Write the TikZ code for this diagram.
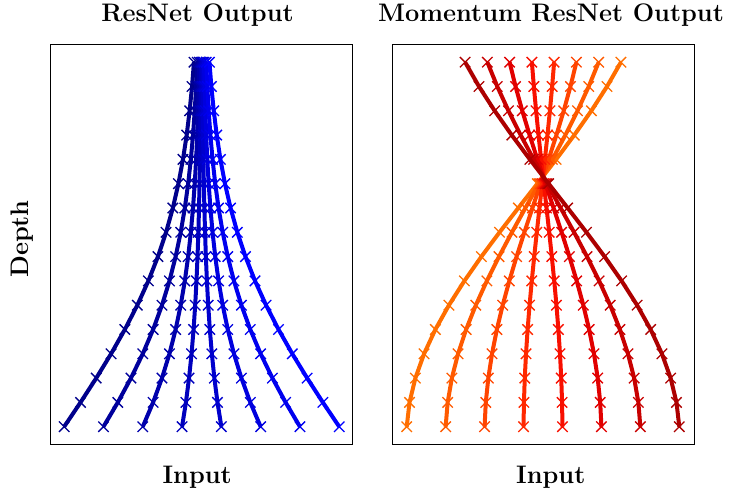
\documentclass[tikz,border=0pt]{standalone}
\usetikzlibrary{shapes.misc}
\definecolor{L0}{RGB}{0,0,139}
\definecolor{L1}{RGB}{0,0,156}
\definecolor{L2}{RGB}{0,0,172}
\definecolor{L3}{RGB}{0,0,189}
\definecolor{L4}{RGB}{0,0,205}
\definecolor{L5}{RGB}{0,0,222}
\definecolor{L6}{RGB}{0,0,238}
\definecolor{L7}{RGB}{0,0,255}
\definecolor{R0}{RGB}{255,110,0}
\definecolor{R1}{RGB}{255,90,0}
\definecolor{R2}{RGB}{255,68,0}
\definecolor{R3}{RGB}{255,40,0}
\definecolor{R4}{RGB}{248,15,0}
\definecolor{R5}{RGB}{225,0,0}
\definecolor{R6}{RGB}{200,0,0}
\definecolor{R7}{RGB}{172,0,0}
\begin{document}
\begin{tikzpicture}[x=0.75pt,y=-0.75pt,
  frame/.style={draw=black,line width=1.1pt,inner sep=0pt,minimum width=226.5pt,minimum height=299.7pt},
  title/.style={font=\fontsize{19}{22}\selectfont\bfseries, anchor=base, inner sep=0pt},
  curve/.style={line width=3pt,line join=round},
  xmark/.style={cross out,draw,inner sep=0pt,minimum size=6.8pt,line width=1pt}]
\useasboundingbox (0,0) rectangle (732,495);

\node[title] (t1) at (197.5,22) {ResNet Output};
\node[title] (t2) at (551,22) {Momentum ResNet Output};
\node[title] (in1) at (197.2,483) {Input};
\node[title] (in2) at (550.8,483) {Input};
\node[title, rotate=90] (dep) at (28,239) {Depth};

\node[frame] (p1) at (201.7,244.5) {};
\node[frame] (p2) at (543.7,244.5) {};

% ResNet curves
\foreach \i in {0,...,7}{
  \pgfmathsetmacro{\st}{(\i-3.5)*39.3}
  \xdef\cx{\st}
  \foreach \n in {0,...,15}{
    \pgfmathsetmacro{\px}{201.7+\cx}
    \pgfmathsetmacro{\py}{426.7-24.3*\n}
    \coordinate (L\i-\n) at (\px,\py);
    \pgfmathsetmacro{\nx}{\cx-18*tanh(\cx/90)}
    \xdef\cx{\nx}
  }
  \draw[curve, color=L\i] (L\i-0) \foreach \n in {1,...,15}{ -- (L\i-\n)};
  \foreach \n in {0,...,15} \node[xmark, draw=L\i] (ML\i-\n) at (L\i-\n) {};
}

% Momentum ResNet curves
\foreach \i in {0,...,7}{
  \pgfmathsetmacro{\st}{(\i-3.5)*38.94}
  \foreach \n in {0,...,15}{
    \pgfmathsetmacro{\px}{543+\st*exp(-0.0093*\n)*cos(8.738*\n)}
    \pgfmathsetmacro{\py}{426.7-24.3*\n}
    \coordinate (R\i-\n) at (\px,\py);
  }
  \draw[curve, color=R\i] (R\i-0) \foreach \n in {1,...,15}{ -- (R\i-\n)};
  \foreach \n in {0,...,15} \node[xmark, draw=R\i] (MR\i-\n) at (R\i-\n) {};
}
\end{tikzpicture}
\end{document}
